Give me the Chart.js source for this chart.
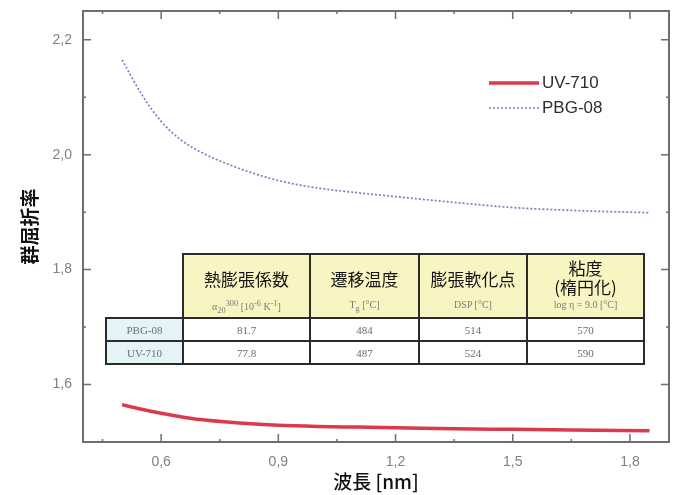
<!DOCTYPE html>
<html>
<head>
<meta charset="utf-8">
<script src="https://cdn.jsdelivr.net/npm/chart.js@4.4.0/dist/chart.umd.min.js"></script>
<style>
    html, body { margin: 0; padding: 0; background: #fff; }
    #wrap { position: relative; width: 681px; height: 495px; }
    #tbl { position: absolute; left: 105px; top: 253px; border-collapse: collapse; table-layout: fixed; }
    #tbl td { border: 2px solid #2b2b2b; text-align: center; padding: 0; }
    #tbl td.blank { border: none; background: transparent; }
    #tbl td.head { background: #f8f5c2; height: 62px; vertical-align: top; }
    #tbl .ja { font-family: "Noto Sans CJK JP", sans-serif; font-size: 17px; color: #151515; line-height: 19px; margin-top: 14px; }
    #tbl .ja2 { margin-top: 3px; }
    #tbl .sub { font-family: "Liberation Serif", serif; font-size: 10px; color: #7a7a7a; margin-top: 11px; }
    #tbl .sub2 { margin-top: 3px; }
    #tbl td.lab { background: #e3f3f6; font-family: "Liberation Serif", serif; font-size: 11px; color: #6a7078; height: 21px; }
    #tbl td.val { background: #fff; font-family: "Liberation Serif", serif; font-size: 11px; color: #6a6a6a; height: 21px; }
</style>
</head>
<body>
<div id="wrap">
    <canvas id="c" width="681" height="495"></canvas>
    <table id="tbl"></table>
</div>
<script>
( function () {
    'use strict';

    /* ── Дані ── */
    var wavelength = [ 0.5, 0.55, 0.6, 0.65, 0.7, 0.8, 0.9, 1.0, 1.1, 1.2, 1.35, 1.5, 1.65, 1.85 ];
    var uv710      = [ 1.565, 1.557, 1.550, 1.544, 1.539, 1.533, 1.529, 1.527, 1.526, 1.525, 1.523, 1.522, 1.521, 1.5195 ];
    var pbg08      = [ 2.165, 2.105, 2.058, 2.026, 2.005, 1.976, 1.955, 1.942, 1.934, 1.927, 1.917, 1.908, 1.903, 1.899 ];

    var xMajor  = [ 0.6, 0.9, 1.2, 1.5, 1.8 ];
    var xMinor  = [ 0.45, 0.75, 1.05, 1.35, 1.65 ];
    var xLabels = [ '0,6', '0,9', '1,2', '1,5', '1,8' ];
    var yMajor  = [ 1.6, 1.8, 2.0, 2.2 ];
    var yMinor  = [ 1.7, 1.9, 2.1 ];
    var yLabels = [ '1,6', '1,8', '2,0', '2,2' ];

    /* ── Таблиця ── */
    var colHeads = [ '熱膨張係数', '遷移温度', '膨張軟化点', '粘度<br>(楕円化)' ];
    var colUnits = [ 'α<sub>20</sub><sup>300</sup> [10<sup>-6</sup> K<sup>-1</sup>]', 'T<sub>g</sub> [°C]', 'DSP [°C]', 'log η = 9.0 [°C]' ];
    var colWidths = [ 77, 127, 109, 108, 117 ];
    var rowNames = [ 'PBG-08', 'UV-710' ];
    var rowPBG   = [ '81.7', '484', '514', '570' ];
    var rowUV    = [ '77.8', '487', '524', '590' ];

    function buildTable() {
        var t = document.getElementById( 'tbl' );
        var html = '<colgroup>';
        colWidths.forEach( function ( w ) { html += '<col style="width:' + w + 'px">'; } );
        html += '</colgroup><tr><td class="blank"></td>';
        colHeads.forEach( function ( h, i ) {
            var two = i === 3;
            html += '<td class="head"><div class="ja' + ( two ? ' ja2' : '' ) + '">' + h + '</div>' +
                    '<div class="sub' + ( two ? ' sub2' : '' ) + '">' + colUnits[ i ] + '</div></td>';
        } );
        html += '</tr>';
        [ rowPBG, rowUV ].forEach( function ( row, r ) {
            html += '<tr><td class="lab">' + rowNames[ r ] + '</td>';
            row.forEach( function ( v ) { html += '<td class="val">' + v + '</td>'; } );
            html += '</tr>';
        } );
        t.innerHTML = html;
    }
    buildTable();

    /* ── Рамка та внутрішні риски ── */
    var frameTicks = {
        id: 'frameTicks',
        afterDraw: function ( chart ) {
            var ctx = chart.ctx, a = chart.chartArea;
            var xs = chart.scales.x, ys = chart.scales.y;
            ctx.save();
            ctx.strokeStyle = '#6f6f6f';
            ctx.lineWidth = 2;
            ctx.strokeRect( a.left, a.top, a.right - a.left, a.bottom - a.top );
            function xt( v, len ) {
                var p = xs.getPixelForValue( v );
                ctx.beginPath();
                ctx.moveTo( p, a.bottom ); ctx.lineTo( p, a.bottom - len );
                ctx.moveTo( p, a.top );    ctx.lineTo( p, a.top + len );
                ctx.stroke();
            }
            function yt( v, len ) {
                var p = ys.getPixelForValue( v );
                ctx.beginPath();
                ctx.moveTo( a.left, p );  ctx.lineTo( a.left + len, p );
                ctx.moveTo( a.right, p ); ctx.lineTo( a.right - len, p );
                ctx.stroke();
            }
            ctx.lineWidth = 1.5;
            xMajor.forEach( function ( v ) { xt( v, 8 ); } );
            xMinor.forEach( function ( v ) { xt( v, 3 ); } );
            yMajor.forEach( function ( v ) { yt( v, 8 ); } );
            yMinor.forEach( function ( v ) { yt( v, 3 ); } );
            ctx.restore();
        }
    };

    /* ── Легенда всередині графіку ── */
    var insideLegend = {
        id: 'insideLegend',
        afterDraw: function ( chart ) {
            var ctx = chart.ctx;
            var rows = [ 83, 108 ];
            ctx.save();
            chart.data.datasets.forEach( function ( ds, i ) {
                var y = rows[ i ];
                ctx.strokeStyle = ds.borderColor;
                ctx.lineWidth = ds.borderWidth;
                ctx.setLineDash( ds.borderDash || [] );
                ctx.beginPath();
                ctx.moveTo( 489, y ); ctx.lineTo( 539, y );
                ctx.stroke();
                ctx.setLineDash( [] );
                ctx.fillStyle = '#2e2e2e';
                ctx.font = '17px "Liberation Sans", Arial, sans-serif';
                ctx.textBaseline = 'middle';
                ctx.fillText( ds.label, 542, y );
            } );
            ctx.restore();
        }
    };

    function pts( ys ) {
        return wavelength.map( function ( x, i ) { return { x: x, y: ys[ i ] }; } );
    }

    var tickFont = { family: '"Liberation Sans", Arial, sans-serif', size: 14 };

    new Chart( document.getElementById( 'c' ), {
        type: 'line',
        data: {
            datasets: [ {
                label:       'UV-710',
                data:        pts( uv710 ),
                borderColor: '#dc3a4c',
                borderWidth: 3.5,
                pointRadius: 0,
                cubicInterpolationMode: 'monotone',
            }, {
                label:       'PBG-08',
                data:        pts( pbg08 ),
                borderColor: '#7c7cc0',
                borderWidth: 1.7,
                borderDash:  [ 2, 2 ],
                pointRadius: 0,
                cubicInterpolationMode: 'monotone',
            } ],
        },
        options: {
            responsive: false,
            animation:  false,
            layout: { padding: { left: 0, top: 11, right: 12, bottom: 0 } },
            plugins: {
                legend:  { display: false },
                tooltip: { enabled: false },
            },
            scales: {
                x: {
                    type: 'linear',
                    min:  0.4,
                    max:  1.9,
                    grid:   { display: false, drawTicks: false },
                    border: { display: false },
                    afterBuildTicks: function ( s ) { s.ticks = xMajor.map( function ( v ) { return { value: v }; } ); },
                    afterFit: function ( s ) { s.height = 53; s.paddingLeft = 0; s.paddingRight = 0; },
                    ticks: {
                        autoSkip: false,
                        maxRotation: 0,
                        padding: 12,
                        color: '#808080',
                        font: tickFont,
                        callback: function ( v, i ) { return xLabels[ i ]; },
                    },
                    title: {
                        display: true,
                        text:    '波長 [nm]',
                        color:   '#111',
                        font:    { family: '"Noto Sans CJK JP", sans-serif', size: 19, weight: '500' },
                        padding: { top: 0, bottom: 2 },
                    },
                },
                y: {
                    type: 'linear',
                    min:  1.5,
                    max:  2.25,
                    grid:   { display: false, drawTicks: false },
                    border: { display: false },
                    afterBuildTicks: function ( s ) { s.ticks = yMajor.map( function ( v ) { return { value: v }; } ); },
                    afterFit: function ( s ) { s.width = 83; s.paddingTop = 0; s.paddingBottom = 0; },
                    ticks: {
                        autoSkip: false,
                        padding: 11,
                        color: '#808080',
                        font: tickFont,
                        callback: function ( v, i ) { return yLabels[ i ]; },
                    },
                    title: {
                        display: true,
                        text:    '群屈折率',
                        color:   '#111',
                        font:    { family: '"Noto Sans CJK JP", sans-serif', size: 19, weight: 'bold' },
                        padding: { top: 18, bottom: 0 },
                    },
                },
            },
        },
        plugins: [ frameTicks, insideLegend ],
    } );
}() );
</script>
</body>
</html>
